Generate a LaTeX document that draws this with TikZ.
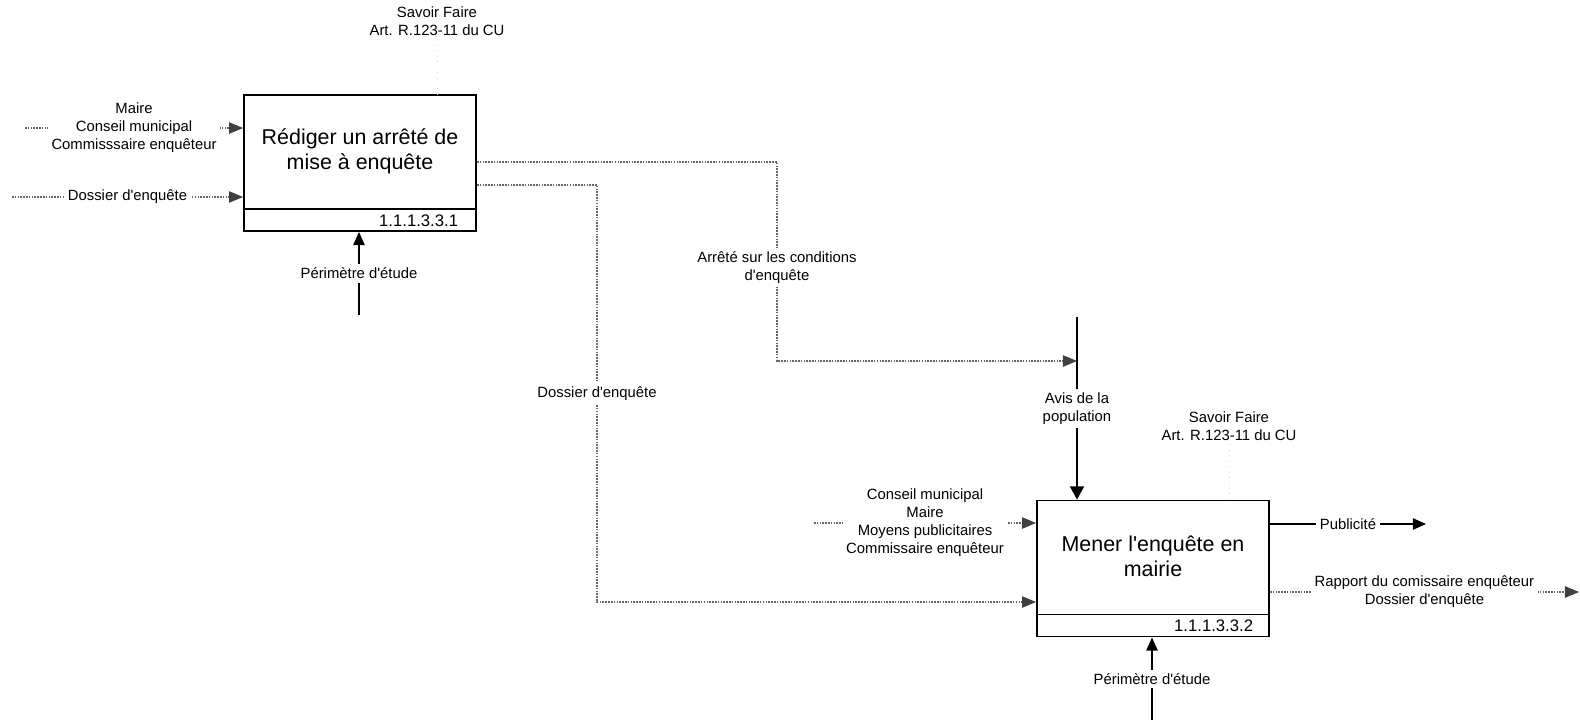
\documentclass[tikz,border=0pt]{standalone}
\usepackage{fontspec}
\setmainfont{Liberation Sans}
\usetikzlibrary{arrows.meta,calc}
\newcommand{\apos}{\textquotesingle}

\begin{document}
\begin{tikzpicture}[x=0.02cm,y=-0.02cm, every node/.style={align=center, inner sep=2pt},
  actbox/.style={draw, line width=1.1pt, minimum width=4.64cm, minimum height=2.72cm, inner sep=0pt},
  acttext/.style={font=\fontsize{12.2}{14.3}\selectfont},
  actnum/.style={font=\fontsize{9.5}{11}\selectfont, anchor=east},
  lbl/.style={font=\fontsize{8.45}{10.3}\selectfont, fill=white},
  flowdot/.style={draw=black!60, line width=0.6pt, dash pattern=on 0.9pt off 0.7pt,
    -{Triangle[length=8pt,width=6.5pt,color=black!75]}},
  flowsolid/.style={draw=black, line width=0.8pt, -{Triangle[length=7.5pt,width=6.5pt]}},
  flowfaint/.style={draw=black!15, line width=0.5pt, dash pattern=on 0.6pt off 2.5pt}]
  \useasboundingbox (0,0) rectangle (1580,725);

  % activities
  \node[actbox] (act1) at (360,163) {};
  \node[acttext] (act1t) at ($(act1.north)+(0,57)$) {Rédiger un arrêté de\\mise à enquête};
  \draw[line width=1.1pt] ($(act1.south west)+(0,-23)$) -- ($(act1.south east)+(0,-23)$);
  \node[actnum] (act1n) at ($(act1.south east)+(-15,-11.5)$) {1.1.1.3.3.1};

  \node[actbox] (act2) at (1153,568.5) {};
  \node[acttext] (act2t) at ($(act2.north)+(0,57)$) {Mener l\apos enquête en\\mairie};
  \draw[line width=1.1pt] ($(act2.south west)+(0,-23)$) -- ($(act2.south east)+(0,-23)$);
  \node[actnum] (act2n) at ($(act2.south east)+(-13,-11.5)$) {1.1.1.3.3.2};

  % savoir faire
  \node[lbl] (sf1) at (437,21) {Savoir Faire\\Art. R.123-11 du CU};
  \draw[flowfaint] (sf1.south) -- (sf1.south |- act1.north);
  \node[lbl] (sf2) at (1229,426) {Savoir Faire\\Art. R.123-11 du CU};
  \draw[flowfaint] (sf2.south) -- (sf2.south |- act2.north);

  % inputs of act1
  \coordinate (in1) at (25,128);
  \coordinate (in2) at (12,197);
  \draw[flowdot] (in1) -- node[lbl] {Maire\\Conseil municipal\\Commisssaire enquêteur} (in1 -| act1.west);
  \draw[flowdot] (in2) -- node[lbl] {Dossier d\apos enquête} (in2 -| act1.west);
  \coordinate (mec1) at (359,315);
  \draw[flowsolid] (mec1) -- node[lbl] {Périmètre d\apos étude} (mec1 |- act1.south);

  % outputs of act1
  \coordinate (avis) at (1077,317);
  \draw[flowsolid, -{Triangle[length=7.5pt,width=8pt]}] (avis) -- node[lbl] {Avis de la\\population} (avis |- act2.north);
  \coordinate (o1) at (777,162);
  \coordinate (o1b) at (777,361);
  \draw[flowdot] (o1 -| act1.east) -- (o1) -- node[lbl, pos=0.53] {Arrêté sur les conditions\\d\apos enquête} (o1b) -- (o1b -| avis);
  \coordinate (o2) at (597,185);
  \coordinate (o2b) at (597,602);
  \draw[flowdot] (o2 -| act1.east) -- (o2) -- node[lbl] {Dossier d\apos enquête} (o2b) -- (o2b -| act2.west);

  % act2
  \coordinate (in3) at (814,523);
  \draw[flowdot] (in3) -- node[lbl] {Conseil municipal\\Maire\\Moyens publicitaires\\Commissaire enquêteur} (in3 -| act2.west);
  \coordinate (mec2) at (1152,720);
  \draw[flowsolid] (mec2) -- node[lbl] {Périmètre d\apos étude} (mec2 |- act2.south);
  \coordinate (pub) at (1426,524);
  \draw[flowsolid] (pub -| act2.east) -- node[lbl] {Publicité} (pub);
  \coordinate (rap) at (1579,592);
  \draw[flowdot] (rap -| act2.east) -- node[lbl] {Rapport du comissaire enquêteur\\Dossier d\apos enquête} (rap);
\end{tikzpicture}
\end{document}
